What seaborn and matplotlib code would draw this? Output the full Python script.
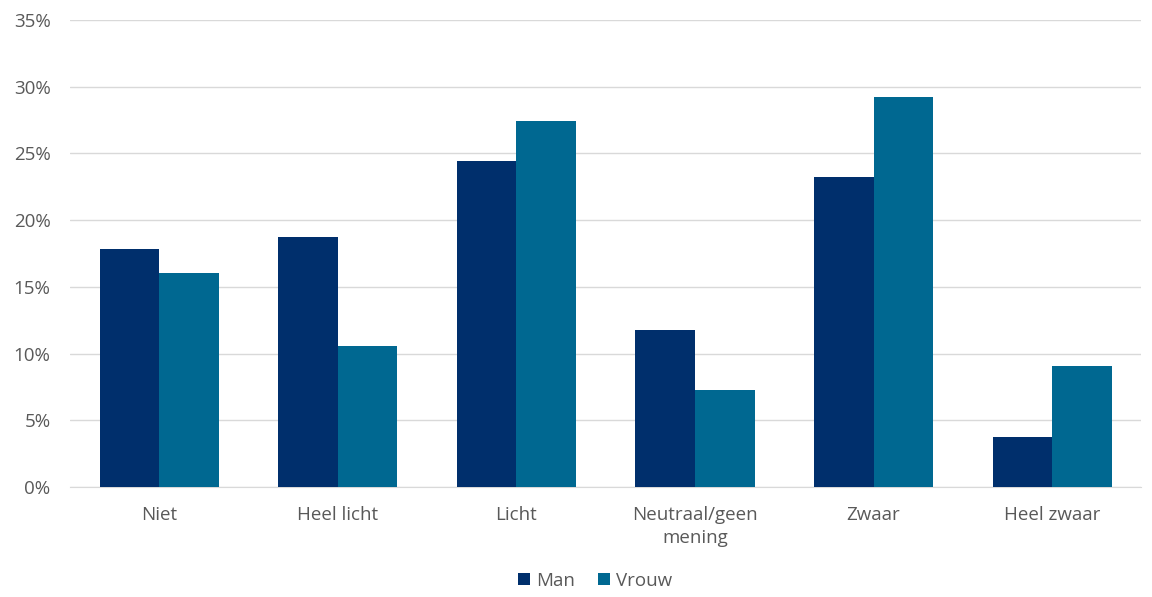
import pandas as pd
import matplotlib.pyplot as plt
import seaborn as sns
from matplotlib.ticker import PercentFormatter

categories = ['Niet', 'Heel licht', 'Licht', 'Neutraal/geen\nmening', 'Zwaar', 'Heel zwaar']
man = [17.8, 18.7, 24.4, 11.8, 23.2, 3.75]
vrouw = [16.0, 10.6, 27.4, 7.3, 29.2, 9.1]

df = pd.DataFrame({
    'categorie': categories * 2,
    'waarde': man + vrouw,
    'geslacht': ['Man'] * len(categories) + ['Vrouw'] * len(categories),
})

sns.set_style("white")
plt.rcParams['font.family'] = ['Open Sans', 'DejaVu Sans']

fig = plt.figure(figsize=(11.52, 5.97), dpi=100)
ax = fig.add_axes([0.0608, 0.1843, 0.930, 0.7822])

palette = {'Man': '#002F6C', 'Vrouw': '#006891'}
sns.barplot(data=df, x='categorie', y='waarde', hue='geslacht', palette=palette,
            width=0.667, saturation=1, linewidth=0, ax=ax, zorder=3)

ax.set_ylim(0, 35)
ax.set_yticks(range(0, 36, 5))
ax.yaxis.set_major_formatter(PercentFormatter(decimals=0))
ax.grid(axis='y', color='#D9D9D9', linewidth=1, zorder=0)
ax.set_xlabel('')
ax.set_ylabel('')
for s in ['top', 'right', 'left']:
    ax.spines[s].set_visible(False)
ax.spines['bottom'].set_color('#D9D9D9')
ax.tick_params(axis='both', length=0, labelsize=13.5, colors='#595959')
ax.tick_params(axis='x', pad=14)
ax.tick_params(axis='y', pad=14)
for lbl in ax.get_xticklabels():
    lbl.set_linespacing(1.35)
ax.set_xlim(-0.5, len(categories) - 0.5)

handles, labels = ax.get_legend_handles_labels()
ax.legend(handles, labels, loc='upper center', bbox_to_anchor=(0.49, -0.145), ncol=2,
          frameon=False, fontsize=13.5, labelcolor='#595959', handlelength=0.65,
          handleheight=0.65, handletextpad=0.35, columnspacing=1.2)

fig.savefig('out.png', dpi=100)
